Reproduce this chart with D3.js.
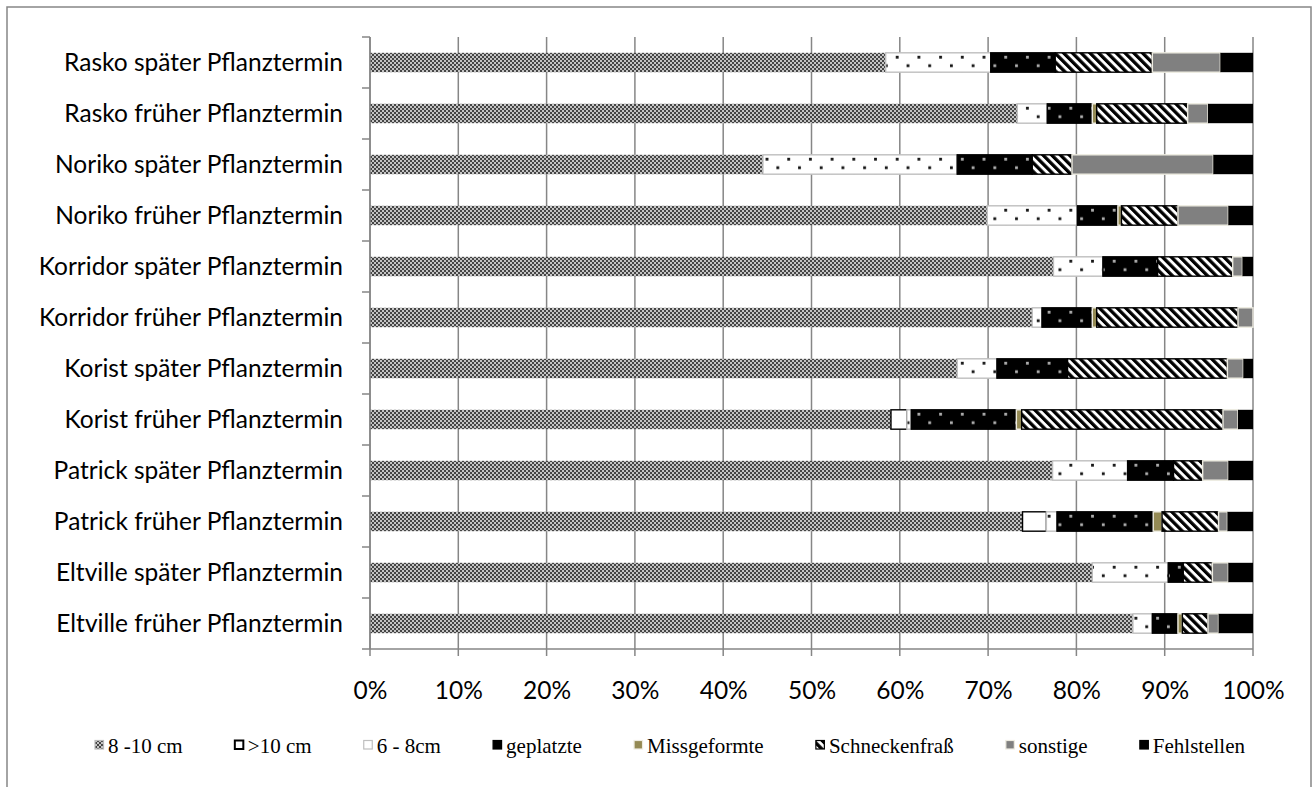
<!DOCTYPE html>
<html><head><meta charset="utf-8">
<script src="https://cdn.jsdelivr.net/npm/d3@7"></script>
<style>body{margin:0;background:#fff}svg{display:block}</style>
</head><body>
<svg id="c" width="1315" height="787"></svg>
<script>
// categories, top to bottom
const categories = [
  "Rasko später Pflanztermin","Rasko früher Pflanztermin",
  "Noriko später Pflanztermin","Noriko früher Pflanztermin",
  "Korridor später Pflanztermin","Korridor früher Pflanztermin",
  "Korist später Pflanztermin","Korist früher Pflanztermin",
  "Patrick später Pflanztermin","Patrick früher Pflanztermin",
  "Eltville später Pflanztermin","Eltville früher Pflanztermin"
];
const seriesNames = ["8 -10 cm", ">10 cm", "6 - 8cm", "geplatzte", "Missgeformte", "Schneckenfraß", "sonstige", "Fehlstellen"];
const cm8_10       = [58.4, 73.3, 44.5, 69.9, 77.4, 75.0, 66.5, 59.0, 77.3, 73.9, 81.8, 86.4];
const over10       = [0, 0, 0, 0, 0, 0, 0, 1.8, 0, 2.7, 0, 0];
const cm6_8        = [11.9, 3.4, 22.0, 10.2, 5.6, 1.1, 4.5, 0.5, 8.5, 1.2, 8.6, 2.2];
const geplatzte    = [7.3, 5.1, 8.5, 4.6, 6.2, 5.7, 8.0, 11.9, 5.2, 10.9, 1.7, 2.9];
const missgeformte = [0, 0.5, 0, 0.4, 0, 0.5, 0, 0.6, 0, 1.0, 0, 0.5];
const schnecken    = [11.0, 10.3, 4.5, 6.4, 8.5, 16.0, 18.1, 22.8, 3.3, 6.4, 3.3, 2.9];
const sonstige     = [7.7, 2.3, 16.0, 5.7, 1.1, 1.7, 1.8, 1.7, 2.9, 1.0, 1.8, 1.2];
const fehlstellen  = [3.7, 5.1, 4.5, 2.8, 1.2, 0, 1.1, 1.7, 2.8, 2.9, 2.8, 3.9];
const tickValues = [0, 0.1, 0.2, 0.3, 0.4, 0.5, 0.6, 0.7, 0.8, 0.9, 1.0];
const tickLabels = ["0%","10%","20%","30%","40%","50%","60%","70%","80%","90%","100%"];

const seriesValues = [cm8_10, over10, cm6_8, geplatzte, missgeformte, schnecken, sonstige, fehlstellen];
const rows = categories.map((c, i) => {
  const r = {cat: c};
  seriesNames.forEach((s, j) => r[s] = seriesValues[j][i]);
  return r;
});

const svg = d3.select("#c");
const grid = "#868686";
const m = {l: 370, r: 1253, t: 37, b: 649};

const x = d3.scaleLinear().domain([0, 1]).range([m.l, m.r]);
const y = d3.scaleBand().domain(categories).range([m.t, m.b]).paddingInner(0.62).paddingOuter(0.31);

// outer frame
svg.append("rect").attr("x", 7).attr("y", 7).attr("width", 1304).attr("height", 800)
  .attr("fill", "none").attr("stroke", grid).attr("stroke-width", 1.5);

// patterns
const defs = svg.append("defs");
const p1 = defs.append("pattern").attr("id", "pCheck").attr("patternUnits", "userSpaceOnUse")
  .attr("width", 4).attr("height", 4);
p1.append("rect").attr("width", 4).attr("height", 4).attr("fill", "#454545");
p1.append("rect").attr("width", 2).attr("height", 2).attr("fill", "#c4c4c4");
p1.append("rect").attr("x", 2).attr("y", 2).attr("width", 2).attr("height", 2).attr("fill", "#c4c4c4");

const top0 = y(categories[0]);
const dotH = y.step() / 3;
function dots(id, bg, fg) {
  const p = defs.append("pattern").attr("id", id).attr("patternUnits", "userSpaceOnUse")
    .attr("width", 21.7).attr("height", dotH).attr("y", top0).attr("x", m.l);
  p.append("rect").attr("width", 21.7).attr("height", dotH).attr("fill", bg);
  p.append("rect").attr("x", 5).attr("y", 3).attr("width", 2.8).attr("height", 2.8).attr("fill", fg);
  p.append("rect").attr("x", 15.8).attr("y", 11.5).attr("width", 2.8).attr("height", 2.8).attr("fill", fg);
}
dots("pDotW", "#ffffff", "#111");
dots("pDotB", "#000000", "#b0b0b0");

const ps = defs.append("pattern").attr("id", "pStripe").attr("patternUnits", "userSpaceOnUse")
  .attr("width", 6.2).attr("height", 6.2).attr("patternTransform", "rotate(-45)");
ps.append("rect").attr("width", 6.2).attr("height", 6.2).attr("fill", "#ffffff");
ps.append("rect").attr("width", 3.3).attr("height", 6.2).attr("fill", "#000000");

const styles = {
  "8 -10 cm":     {fill: "url(#pCheck)", stroke: "none"},
  ">10 cm":       {fill: "#ffffff", stroke: "#000000"},
  "6 - 8cm":      {fill: "url(#pDotW)", stroke: "#bfbfbf"},
  "geplatzte":    {fill: "url(#pDotB)", stroke: "#000000"},
  "Missgeformte": {fill: "#948a54", stroke: "#eeece1"},
  "Schneckenfraß":{fill: "url(#pStripe)", stroke: "#000000"},
  "sonstige":     {fill: "#808080", stroke: "#eeece1"},
  "Fehlstellen":  {fill: "#000000", stroke: "none"}
};

// gridlines (extend below axis as tick marks)
svg.append("g").selectAll("line").data(tickValues).join("line")
  .attr("x1", d => x(d)).attr("x2", d => x(d))
  .attr("y1", m.t).attr("y2", m.b + 7)
  .attr("stroke", grid).attr("stroke-width", 1.5);

// bars
const stack = d3.stack().keys(seriesNames).offset(d3.stackOffsetExpand);
const stacked = stack(rows);
svg.append("g").selectAll("g").data(stacked).join("g")
  .each(function(s) {
    const st = styles[s.key];
    d3.select(this).selectAll("rect").data(s.filter(d => d[1] - d[0] > 0)).join("rect")
      .attr("x", d => x(d[0])).attr("width", d => x(d[1]) - x(d[0]))
      .attr("y", d => y(d.data.cat)).attr("height", y.bandwidth())
      .attr("fill", st.fill).attr("stroke", st.stroke).attr("stroke-width", 1.4);
  });

// x axis
const xAxis = d3.axisBottom(x).tickValues(tickValues).tickFormat((d, i) => tickLabels[i]).tickSize(0).tickPadding(34);
const gx = svg.append("g").attr("transform", `translate(0,${m.b})`).call(xAxis);
gx.select(".domain").remove();
svg.append("line").attr("x1", m.l - 8).attr("x2", m.r).attr("y1", m.b).attr("y2", m.b)
  .attr("stroke", grid).attr("stroke-width", 1.5);

// y axis
const gy = svg.append("g").attr("transform", `translate(${m.l},0)`)
  .call(d3.axisLeft(y).tickSize(0).tickPadding(27));
gy.select(".domain").remove();
svg.append("line").attr("x1", m.l).attr("x2", m.l).attr("y1", m.t).attr("y2", m.b)
  .attr("stroke", grid).attr("stroke-width", 1.5);
const bounds = categories.map(c => y(c) - y.step() * y.paddingInner() / 2);
svg.append("g").selectAll("line").data(bounds).join("line")
  .attr("x1", m.l - 8).attr("x2", m.l).attr("y1", d => d).attr("y2", d => d)
  .attr("stroke", grid).attr("stroke-width", 1.5);

// fonts: fit label font so the widest matches reference width
const probe = svg.append("text").attr("font-family", "Lato").attr("font-size", 26).text("Rasko später Pflanztermin");
const fs = 26 * 279 / probe.node().getComputedTextLength();
probe.remove();
[gx, gy].forEach(g => g.selectAll("text").attr("font-family", "Lato").attr("font-size", fs).attr("fill", "#000"));
gy.selectAll("text").attr("dy", null).attr("dominant-baseline", "alphabetic").attr("dy", fs * 0.33);
gx.selectAll("text").attr("dy", null).attr("y", 50);

// legend
const lg = svg.append("g").attr("font-family", "Liberation Serif, Times New Roman, serif").attr("font-size", 21);
const legX0 = 95, legX1 = 1245, legY = 753, sym = 10, symGap = 3;
const items = lg.selectAll("g").data(seriesNames).join("g");
items.append("rect").attr("class", "sym").attr("width", sym - 1.5).attr("height", sym - 1.5)
  .attr("y", legY - 12.5)
  .attr("fill", d => styles[d].fill)
  .attr("stroke", d => d === "8 -10 cm" ? "#bbb" : (d === "Fehlstellen" || d === "geplatzte" ? "#000" : styles[d].stroke))
  .attr("stroke-width", d => d === ">10 cm" ? 2 : 1.2);
items.append("text").attr("x", sym + symGap).attr("y", legY).text(d => d).attr("fill", "#000");
const widths = items.nodes().map(n => sym + symGap + d3.select(n).select("text").node().getComputedTextLength());
const gap = (legX1 - legX0 - d3.sum(widths)) / (widths.length - 1);
let cx = legX0;
items.each(function(d, i) {
  d3.select(this).attr("transform", `translate(${cx},0)`);
  cx += widths[i] + gap;
});
</script>
</body></html>
